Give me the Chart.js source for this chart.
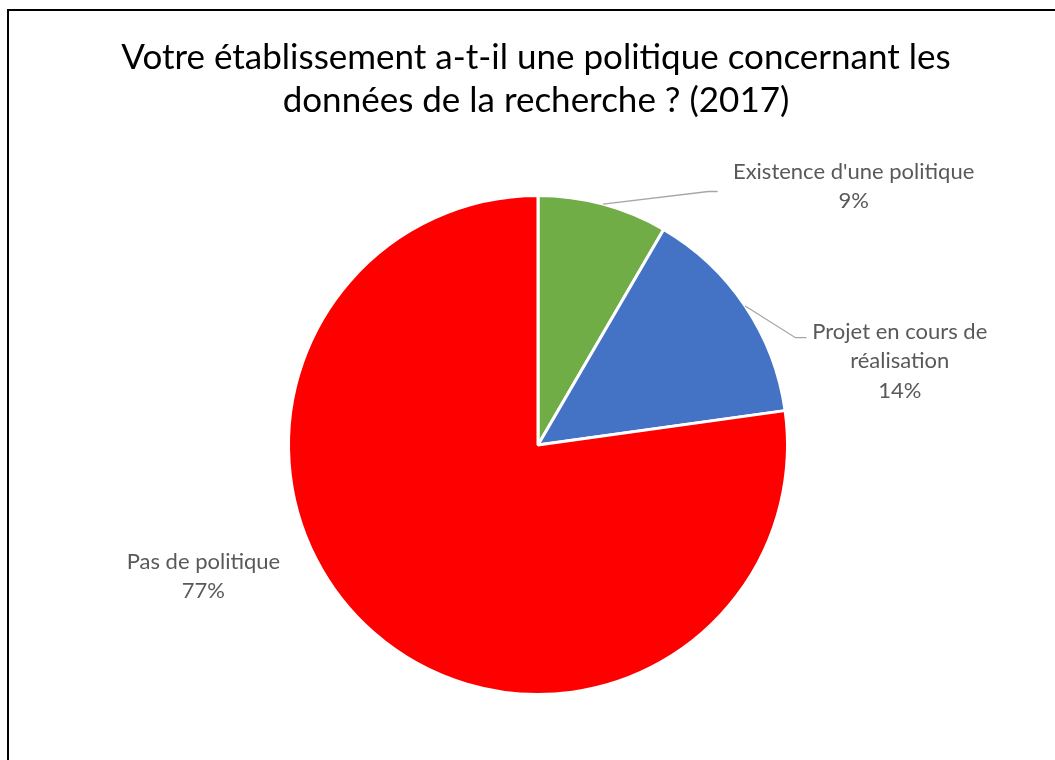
<!DOCTYPE html>
<html>
<head>
<meta charset="utf-8">
<script src="https://cdn.jsdelivr.net/npm/chart.js@4"></script>
<style>
html,body{margin:0;padding:0;background:#fff;overflow:hidden;}
#wrap{position:relative;width:1055px;height:760px;}
#frame{position:absolute;left:7px;top:9px;width:1100px;height:800px;border-top:2px solid #000;border-left:2px solid #000;pointer-events:none;}
canvas{position:absolute;left:0;top:0;}
</style>
</head>
<body>
<div id="wrap"><canvas id="c" width="1055" height="760"></canvas><div id="frame"></div></div>
<script>
const titleLines = ["Votre établissement a-t-il une politique concernant les", "données de la recherche ? (2017)"];
const categories = [["Existence d'une politique"], ["Projet en cours de", "réalisation"], ["Pas de politique"]];
const values = [8.4, 14.4, 77.2];
const percentLabels = ["9%", "14%", "77%"];
const colors = ["#70ad47", "#4472c4", "#ff0000"];

const FONT = "Lato, 'Open Sans', sans-serif";

// label layout (relative to pie centre, in radii units) and leader lines
const labelLayout = [
  {dx: 1.265, dy: -1.036, leader: true, elbowDx: 0.683, elbowDy: -1.016, endDx: 0.72},
  {dx: 1.45, dy: -0.337, leader: true, elbowDx: 1.032, elbowDy: -0.43, endDx: 1.076},
  {dx: -1.341, dy: 0.526, leader: false}
];

const labelPlugin = {
  id: 'labels',
  afterDatasetsDraw(chart) {
    const ctx = chart.ctx;
    const meta = chart.getDatasetMeta(0);
    ctx.save();
    meta.data.forEach((arc, i) => {
      const {x, y, outerRadius, startAngle, endAngle} = arc.getProps(['x','y','outerRadius','startAngle','endAngle'], true);
      const r = outerRadius;
      const mid = (startAngle + endAngle) / 2;
      const L = labelLayout[i];
      if (L.leader) {
        const sx = x + Math.cos(mid) * r, sy = y + Math.sin(mid) * r;
        ctx.beginPath();
        ctx.strokeStyle = '#a6a6a6';
        ctx.lineWidth = 1.3;
        ctx.moveTo(sx, sy);
        ctx.lineTo(x + L.elbowDx * r, y + L.elbowDy * r);
        ctx.lineTo(x + L.endDx * r, y + L.elbowDy * r);
        ctx.stroke();
      }
      const lines = categories[i].concat([percentLabels[i]]);
      const lh = 29.5;
      const cx = x + L.dx * r, cy = y + L.dy * r;
      ctx.fillStyle = '#595959';
      ctx.font = "22px " + FONT;
      ctx.textAlign = 'center';
      ctx.textBaseline = 'middle';
      lines.forEach((t, k) => {
        ctx.fillText(t, cx, cy + (k - (lines.length - 1) / 2) * lh);
      });
    });
    ctx.restore();
  }
};

const titlePlugin = {
  id: 'customTitle',
  afterDraw(chart) {
    const ctx = chart.ctx;
    ctx.save();
    ctx.fillStyle = '#000';
    ctx.font = "35px " + FONT;
    ctx.textAlign = 'center';
    ctx.textBaseline = 'middle';
    ctx.fillText(titleLines[0], 536, 58);
    ctx.fillText(titleLines[1], 536, 101);
    ctx.restore();
  }
};

new Chart(document.getElementById('c'), {
  type: 'pie',
  data: {
    labels: categories.map(c => c.join(' ')),
    datasets: [{
      data: values,
      backgroundColor: colors,
      borderColor: '#ffffff',
      borderWidth: 3,
      hoverOffset: 0
    }]
  },
  options: {
    responsive: false,
    animation: false,
    rotation: 0,
    layout: {padding: {top: 194, bottom: 64, left: 287, right: 266}},
    plugins: {
      legend: {display: false},
      title: {display: false},
      tooltip: {enabled: false}
    }
  },
  plugins: [labelPlugin, titlePlugin]
});
</script>
</body>
</html>
